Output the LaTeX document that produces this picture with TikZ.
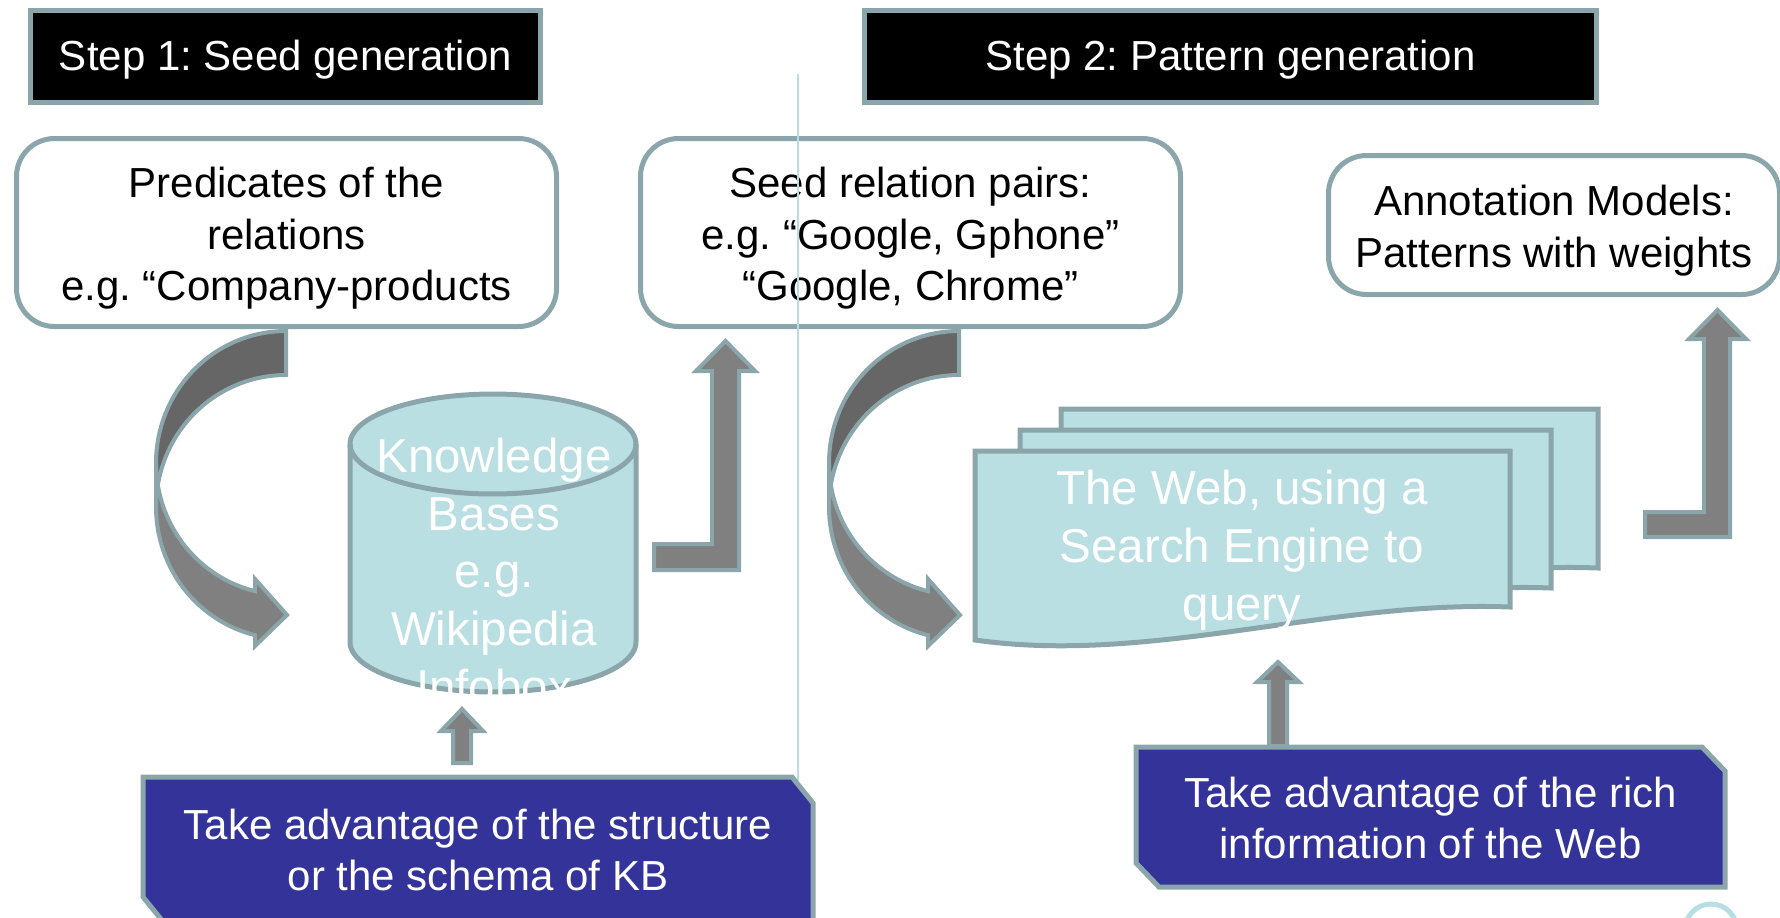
\documentclass[tikz,border=0pt]{standalone}
\usepackage{fontspec}
\setmainfont{Liberation Sans}
\definecolor{bordc}{RGB}{138,166,170}
\definecolor{cylc}{RGB}{185,223,227}
\definecolor{darkar}{RGB}{102,102,102}
\definecolor{lightar}{RGB}{128,128,128}
\definecolor{purp}{RGB}{51,51,153}
\definecolor{thinl}{RGB}{183,222,227}
\tikzset{
  stephead/.style={draw=bordc,line width=2.5pt,fill=black,inner sep=0pt},
  steptext/.style={text=white,inner sep=0pt,font=\fontsize{21}{25}\selectfont},
  roundbox/.style={draw=bordc,line width=2.5pt,fill=white,rounded corners=19pt,inner sep=0pt},
  boxtext/.style={inner sep=0pt,align=center,font=\fontsize{21}{25.75}\selectfont},
  shapetext/.style={text=white,align=center,inner sep=0pt,font=\fontsize{23.75}{28.8}\selectfont},
  purptext/.style={text=white,align=center,inner sep=0pt,font=\fontsize{21}{25.5}\selectfont},
  cylstyle/.style={fill=cylc,draw=bordc,line width=2.5pt},
  arrowlight/.style={fill=lightar,draw=bordc,line width=2pt},
  arrowdark/.style={fill=darkar,draw=bordc,line width=2pt},
  purpbox/.style={fill=purp,draw=bordc,line width=2.5pt},
  thinline/.style={draw=thinl,line width=1pt},
  curvarrow/.pic={
    \filldraw[arrowdark] plot[domain=-90:-180,samples=50] ({286+130*cos(\x)},{463+132*sin(\x)})
      -- plot[domain=180:270,samples=50] ({286+130*cos(\x)},{507+132*sin(\x)}) -- cycle;
    \filldraw[arrowlight] plot[domain=180:103.8,samples=50] ({286+130*cos(\x)},{463+132*sin(\x)})
      -- (255,579) -- (287,615) -- (255,646)
      -- plot[domain=103.8:180,samples=50] ({286+130*cos(\x)},{507+132*sin(\x)}) -- cycle;
  }
}
\begin{document}
\frenchspacing
\begin{tikzpicture}[x=0.5pt,y=-0.5pt]
\useasboundingbox (0,0) rectangle (1780,917);
\clip (0,0) rectangle (1780,917);

% step headers
\node[stephead,minimum width=255pt,minimum height=46pt] (step1) at (285.5,56.5) {};
\node[steptext] (step1txt) at (285.5,60) {Step 1: Seed generation};
\node[stephead,minimum width=366pt,minimum height=46pt] (step2) at (1230.5,56.5) {};
\node[steptext] (step2txt) at (1230.5,60) {Step 2: Pattern generation};

% rounded boxes
\node[roundbox,minimum width=270pt,minimum height=94pt] (pred) at (286.5,232.5) {};
\node[boxtext] (predtxt) at (286.5,238.5) {Predicates of the\\relations\\e.g. “Company-products};
\node[roundbox,minimum width=270pt,minimum height=94pt] (seed) at (910.5,232.5) {};
\node[boxtext] (seedtxt) at (910.5,238.5) {Seed relation pairs:\\e.g. “Google, Gphone”\\“Google, Chrome”};
\node[roundbox,minimum width=225.5pt,minimum height=69.5pt] (annot) at (1554,225) {};
\node[boxtext] (annottxt) at (1554,230.5) {Annotation Models:\\Patterns with weights};

% cylinder (knowledge base)
\filldraw[cylstyle] (350,444) -- (350,642)
  -- plot[domain=180:0,samples=60] ({493+143*cos(\x)},{642+50*sin(\x)})
  -- (636,444)
  -- plot[domain=0:-180,samples=60] ({493+143*cos(\x)},{444+50*sin(\x)}) -- cycle;
\draw[cylstyle,fill=none] plot[domain=180:0,samples=60] ({493+143*cos(\x)},{444+50*sin(\x)});
\node[shapetext] (kb) at (494,571) {Knowledge\\Bases\\e.g.\\Wikipedia\\Infobox};

% stacked documents (the web)
\filldraw[cylstyle] (1061,409) -- (1598,409) -- (1598,568)
  .. controls (1418,561) and (1237,626) .. (1061,601) -- cycle;
\filldraw[cylstyle] (1020,430) -- (1551,430) -- (1551,588)
  .. controls (1373,581) and (1194,646) .. (1020,621) -- cycle;
\filldraw[cylstyle] (975,451) -- (1510,451) -- (1510,607)
  .. controls (1330,600) and (1150,665) .. (975,640) -- cycle;
\node[shapetext,font=\fontsize{23.75}{29}\selectfont] (web) at (1242,550) {The Web, using a\\Search Engine to\\query};

% curved arrows
\pic at (0,0) {curvarrow};
\pic at (673,0) {curvarrow};

% bent up arrows
\filldraw[arrowlight] (654,544) -- (712,544) -- (712,371) -- (696,371) -- (725.5,341)
  -- (755,371) -- (739,371) -- (739,570) -- (654,570) -- cycle;
\filldraw[arrowlight] (1645,512) -- (1704,512) -- (1704,339) -- (1689,339) -- (1717.5,310)
  -- (1746,339) -- (1730,339) -- (1730,537) -- (1645,537) -- cycle;

% small up arrows
\filldraw[arrowlight] (453,763) -- (453,731) -- (441,731) -- (462,709) -- (483,731)
  -- (471,731) -- (471,763) -- cycle;
\filldraw[arrowlight] (1269,746) -- (1269,682) -- (1257,682) -- (1278,662) -- (1299,682)
  -- (1287,682) -- (1287,746) -- cycle;

% thin divider
\coordinate (divtop) at (798,74);
\coordinate (divbot) at (798,781);
\draw[thinline] (divtop) -- (divbot);

% purple boxes
\filldraw[purpbox] (143,777) -- (792,777) -- (813,803) -- (813,924) -- (165,924) -- (143,897) -- cycle;
\node[purptext] (kbnote) at (478,850) {Take advantage of the structure\\or the schema of KB};
\filldraw[purpbox] (1136,747) -- (1702,747) -- (1725,771) -- (1725,887) -- (1159,887) -- (1136,863) -- cycle;
\node[purptext] (webnote) at (1430.5,817.5) {Take advantage of the rich\\information of the Web};

% corner circle
\draw[draw=thinl,line width=2.5pt] (1711,930) circle[radius=26];
\end{tikzpicture}
\end{document}
